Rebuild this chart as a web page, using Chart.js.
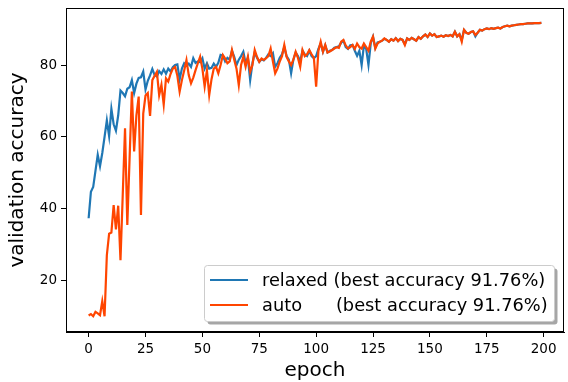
<!DOCTYPE html>
<html lang="en">
<head>
<meta charset="UTF-8">
<title>validation accuracy</title>
<script src="https://cdn.jsdelivr.net/npm/chart.js"></script>
<style>
  html, body { margin: 0; padding: 0; background: #fff; }
  #wrap { width: 568px; height: 382px; }
</style>
</head>
<body>
<div id="wrap"><canvas id="accChart" width="568" height="382"></canvas></div>
<script>
// validation accuracy per epoch
const relaxed = [
  37.3, 44.7, 46.0, 50.5, 55.0, 51.8, 55.5, 60.0, 64.6, 60.2,
  67.8, 63.5, 61.7, 66.0, 72.9, 72.2, 71.3, 73.4, 73.8, 75.8,
  72.2, 74.8, 76.4, 76.6, 78.2, 73.2, 75.6, 77.1, 78.9, 77.2,
  76.8, 78.3, 77.5, 78.8, 77.6, 79.0, 78.2, 79.4, 80.0, 80.2,
  76.0, 79.0, 80.5, 79.8, 80.4, 79.5, 81.9, 80.6, 81.0, 80.8,
  81.9, 79.0, 80.5, 79.0, 79.2, 80.4, 79.5, 80.6, 82.8, 82.6,
  81.0, 82.0, 81.5, 84.0, 82.3, 80.0, 81.5, 82.5, 83.7, 80.5,
  82.0, 75.8, 80.5, 83.5, 82.0, 80.9, 81.6, 81.3, 82.0, 83.0,
  82.5, 83.3, 79.5, 80.5, 82.0, 83.0, 85.0, 82.5, 81.5, 77.7,
  81.5, 83.5, 82.5, 81.0, 84.0, 83.0, 82.5, 84.0, 82.5, 81.9,
  82.5, 84.5, 86.0, 83.7, 85.5, 83.5, 84.0, 84.2, 84.8, 85.0,
  85.2, 86.2, 86.8, 85.0, 84.5, 85.5, 85.6, 84.0, 82.6, 84.0,
  80.0, 85.5, 84.5, 80.0, 86.0, 87.9, 84.8, 86.3, 86.5, 86.8,
  87.3, 87.0, 86.5, 87.2, 86.8, 87.5, 86.7, 87.3, 87.0, 85.8,
  87.4, 87.0, 87.6, 87.2, 86.8, 87.8, 87.3, 88.0, 88.5, 87.8,
  88.8, 88.2, 88.6, 87.8, 88.0, 88.2, 87.9, 88.3, 88.1, 88.4,
  88.0, 89.3, 88.0, 88.6, 87.0, 89.8, 89.0, 88.7, 89.2, 89.4,
  88.0, 89.0, 89.8, 89.6, 90.0, 90.2, 90.0, 90.3, 90.1, 90.3,
  90.4, 90.2, 90.6, 90.8, 91.0, 90.8, 91.0, 91.1, 91.2, 91.3,
  91.4, 91.4, 91.5, 91.6, 91.6, 91.6, 91.7, 91.7, 91.7, 91.76
];
const auto = [
  10.2, 10.6, 10.0, 11.2, 10.8, 10.3, 14.2, 10.0, 27.0, 33.0,
  33.3, 41.0, 34.2, 40.8, 25.6, 44.0, 62.4, 35.4, 54.0, 72.6,
  55.9, 66.0, 71.2, 38.2, 66.5, 71.5, 72.2, 65.8, 75.8, 77.0,
  78.1, 71.6, 74.5, 69.0, 76.3, 75.4, 77.5, 79.0, 79.5, 77.0,
  72.6, 75.8, 78.5, 81.4, 77.2, 74.9, 76.5, 78.6, 80.5, 82.3,
  79.0, 74.0, 78.5, 71.6, 76.0, 79.0, 79.5, 77.7, 80.0, 82.8,
  81.8, 80.5, 81.0, 84.2, 81.5, 79.0, 74.4, 80.0, 82.3, 79.5,
  82.3, 78.1, 80.0, 84.2, 82.3, 80.9, 81.8, 81.4, 81.9, 82.5,
  84.6, 81.0, 77.7, 79.0, 81.0, 82.5, 85.6, 82.3, 81.0, 80.0,
  81.5, 83.7, 82.0, 79.5, 84.2, 82.5, 83.0, 84.2, 83.0, 82.0,
  74.0, 84.0, 86.5, 83.7, 85.6, 83.5, 83.8, 84.2, 84.6, 85.0,
  84.8, 86.5, 87.0, 85.5, 84.6, 85.0, 85.6, 84.5, 86.0, 85.0,
  84.6, 86.0, 85.0, 84.0, 86.5, 87.9, 84.6, 86.0, 86.5, 86.8,
  87.4, 87.0, 86.5, 87.2, 86.8, 87.5, 86.7, 87.3, 87.0, 85.6,
  87.4, 87.0, 87.6, 87.2, 86.8, 87.8, 87.3, 88.0, 88.5, 87.8,
  88.8, 88.2, 88.6, 87.8, 88.0, 88.2, 87.9, 88.3, 88.1, 88.4,
  88.0, 89.3, 88.0, 88.6, 86.5, 89.8, 89.0, 88.7, 89.2, 89.4,
  88.4, 89.0, 89.8, 89.6, 90.0, 90.2, 90.0, 90.3, 90.1, 90.3,
  90.4, 90.2, 90.6, 90.8, 91.0, 90.8, 91.0, 91.1, 91.2, 91.3,
  91.4, 91.4, 91.5, 91.6, 91.6, 91.6, 91.7, 91.7, 91.7, 91.76
];
const seriesLabels = ['relaxed (best accuracy 91.76%)', 'auto      (best accuracy 91.76%)'];
const xTicks = [0, 25, 50, 75, 100, 125, 150, 175, 200];
const yTicks = [20, 40, 60, 80];

const FONT = 'DejaVu Sans';

function toPoints(arr) {
  return arr.map((v, i) => ({ x: i, y: v }));
}

// matplotlib-like frame and legend with shadow
const framePlugin = {
  id: 'frame',
  afterDraw(chart) {
    const ctx = chart.ctx;
    const a = chart.chartArea;
    ctx.save();
    ctx.strokeStyle = '#000';
    ctx.lineWidth = 1;
    ctx.strokeRect(Math.round(a.left) + 0.5, Math.round(a.top) + 0.5,
                   Math.round(a.right - a.left) - 1, Math.round(a.bottom - a.top) - 1);

    // legend box
    const bx = 204.5, by = 265.5, bw = 350, bh = 56;
    ctx.fillStyle = 'rgba(0,0,0,0.35)';
    ctx.beginPath();
    ctx.roundRect(bx + 3, by + 3, bw, bh, 3);
    ctx.fill();
    ctx.fillStyle = '#fff';
    ctx.strokeStyle = '#ccc';
    ctx.beginPath();
    ctx.roundRect(bx, by, bw, bh, 3);
    ctx.fill();
    ctx.stroke();

    ctx.font = '17.8px "' + FONT + '"';
    ctx.textBaseline = 'middle';
    ctx.textAlign = 'left';
    chart.data.datasets.forEach((ds, i) => {
      const y = 280 + i * 25;
      ctx.strokeStyle = ds.borderColor;
      ctx.lineWidth = 2;
      ctx.beginPath();
      ctx.moveTo(210, y);
      ctx.lineTo(248, y);
      ctx.stroke();
      ctx.fillStyle = '#000';
      ctx.fillText(ds.label, 262, y + 1);
    });
    ctx.restore();
  }
};

const ctx = document.getElementById('accChart').getContext('2d');
new Chart(ctx, {
  type: 'line',
  data: {
    datasets: [
      {
        label: seriesLabels[0],
        data: toPoints(relaxed),
        borderColor: '#1f77b4',
        borderWidth: 2.2,
        pointRadius: 0,
        pointHoverRadius: 0,
        tension: 0,
        order: 2
      },
      {
        label: seriesLabels[1],
        data: toPoints(auto),
        borderColor: '#ff4500',
        borderWidth: 2.2,
        pointRadius: 0,
        pointHoverRadius: 0,
        tension: 0,
        order: 1
      }
    ]
  },
  options: {
    responsive: false,
    animation: false,
    layout: { autoPadding: false, padding: { left: 0, right: 4, top: 8, bottom: 0 } },
    scales: {
      x: {
        type: 'linear',
        min: -9.95,
        max: 208.95,
        afterBuildTicks: s => { s.ticks = xTicks.map(v => ({ value: v })); },
        afterFit: s => { s.height = 50; s.paddingLeft = 0; s.paddingRight = 0; },
        grid: { drawOnChartArea: false, drawTicks: true, tickLength: 5, color: '#000' },
        border: { display: true, color: '#000' },
        ticks: { color: '#000', padding: 4, font: { family: FONT, size: 13.5 }, maxRotation: 0 },
        title: {
          display: true, text: 'epoch', color: '#000',
          font: { family: FONT, size: 20, lineHeight: 1 },
          padding: { top: 0, bottom: 1 }
        }
      },
      y: {
        min: 5.6,
        max: 95.9,
        afterBuildTicks: s => { s.ticks = yTicks.map(v => ({ value: v })); },
        afterFit: s => { s.width = 66; s.paddingTop = 0; s.paddingBottom = 0; },
        grid: { drawOnChartArea: false, drawTicks: true, tickLength: 5, color: '#000' },
        border: { display: true, color: '#000' },
        ticks: { color: '#000', padding: 4, font: { family: FONT, size: 13.5 } },
        title: {
          display: true, text: 'validation accuracy', color: '#000',
          font: { family: FONT, size: 20, lineHeight: 1 },
          padding: { top: 8, bottom: 0 }
        }
      }
    },
    plugins: {
      legend: { display: false },
      tooltip: { enabled: false }
    }
  },
  plugins: [framePlugin]
});
</script>
</body>
</html>
